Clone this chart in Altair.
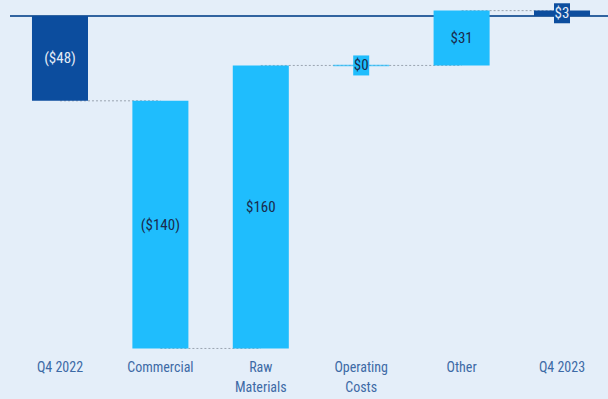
import altair as alt
import pandas as pd

categories = ["Q4 2022", "Commercial", "Raw Materials", "Operating Costs", "Other", "Q4 2023"]
values = [-48, -140, 160, 0, 31, 3]
kinds = ["total", "delta", "delta", "delta", "delta", "total"]

FONT = "'Liberation Sans Narrow', 'Arial Narrow', 'Roboto Condensed', 'DejaVu Sans Condensed', Roboto, sans-serif"
DARK = "#0c4d9e"
LIGHT = "#1fbdfd"

rows = []
running = 0
for c, v, k in zip(categories, values, kinds):
    if k == "total":
        start, end = 0, v
    else:
        start, end = running, running + v
    running = end
    lab = f"(${abs(v)})" if v < 0 else f"${v}"
    rows.append(dict(cat=c, start=start, end=end, mid=(start + end) / 2, kind=k, label=lab))
df = pd.DataFrame(rows)

conn = []
for i in range(len(rows) - 1):
    conn.append(dict(cat=rows[i]["cat"], cat2=rows[i + 1]["cat"], level=rows[i]["end"]))
cdf = pd.DataFrame(conn)

xscale = alt.Scale(domain=categories, paddingInner=0.442, paddingOuter=0.199, align=0.55)
yscale = alt.Scale(domain=[-190, 9], nice=False, zero=False)
color_scale = alt.Scale(domain=["total", "delta"], range=[DARK, LIGHT])

xenc = alt.X("cat:N", scale=xscale, sort=categories, title=None,
             axis=alt.Axis(labelAngle=0, labelAlign="center", ticks=False, domain=False, grid=False,
                           labelFont=FONT, labelFontSize=14, labelColor="#3d6aa6",
                           labelPadding=8, labelLineHeight=20, labelBaseline="top",
                           labelExpr="indexof(datum.label,'Q4')==0 ? datum.label : split(datum.label,' ')"))

base = alt.Chart(df)

baseline = alt.Chart(df).mark_rule(color="#3264a0", strokeWidth=1.5).encode(
    y=alt.Y(datum=0, scale=yscale, axis=None)
)

connectors = alt.Chart(cdf).mark_rule(color="#9aa4b0", strokeWidth=1, strokeDash=[2, 2]).encode(
    x=alt.X("cat:N", scale=xscale, sort=categories),
    x2="cat2:N",
    y=alt.Y("level:Q", scale=yscale, axis=None),
)

bars = base.mark_bar().encode(
    x=xenc,
    y=alt.Y("start:Q", scale=yscale, axis=None),
    y2="end:Q",
    color=alt.Color("kind:N", scale=color_scale, legend=None),
)

zero_tick = base.transform_filter("datum.start == datum.end").mark_tick(
    orient="horizontal", size=56, thickness=1.5, color=LIGHT
).encode(
    x=alt.X("cat:N", scale=xscale, sort=categories),
    y=alt.Y("mid:Q", scale=yscale, axis=None),
)

boxes = base.transform_filter("abs(datum.end - datum.start) < 10").mark_point(
    shape="M-0.8,-1H0.8V1H-0.8Z", size=400, filled=True, opacity=1
).encode(
    x=alt.X("cat:N", scale=xscale, sort=categories),
    y=alt.Y("mid:Q", scale=yscale, axis=None),
    color=alt.Color("kind:N", scale=color_scale, legend=None),
)

labels = base.mark_text(font=FONT, fontSize=15, baseline="middle", align="center").encode(
    x=alt.X("cat:N", scale=xscale, sort=categories),
    y=alt.Y("mid:Q", scale=yscale, axis=None),
    text="label:N",
    color=alt.Color("kind:N", scale=alt.Scale(domain=["total", "delta"], range=["#e3ebf6", "#1a2b4c"]), legend=None),
)

chart = alt.layer(baseline, connectors, bars, zero_tick, boxes, labels).resolve_scale(
    color="independent"
).properties(
    width=598, height=352,
    background="#e4eef9",
    padding={"left": 10, "top": 0, "right": 0, "bottom": 47},
    autosize=alt.AutoSizeParams(type="none"),
).configure_view(stroke=None)

chart.save("out.html", embed_options={"renderer": "svg", "actions": False})
